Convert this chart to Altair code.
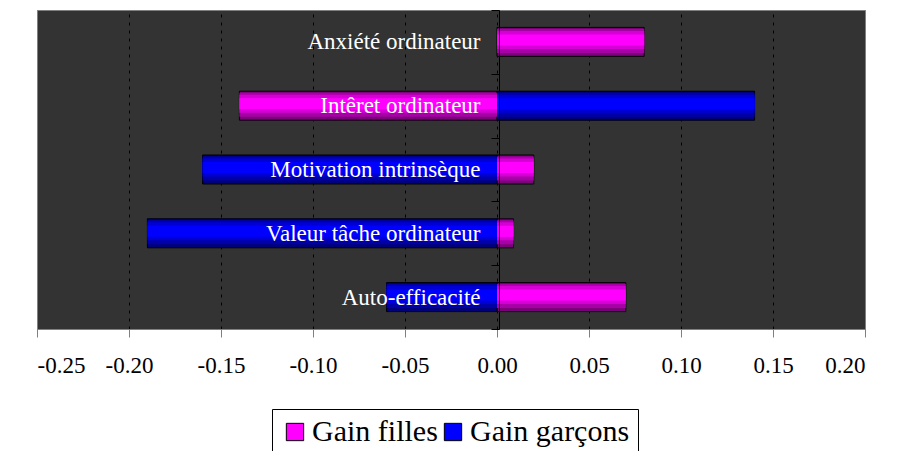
import altair as alt
import pandas as pd

# Gains per attitude scale, girls vs boys
categories = [
    "Anxiété ordinateur",
    "Intêret ordinateur",
    "Motivation intrinsèque",
    "Valeur tâche ordinateur",
    "Auto-efficacité",
]
gain_filles = [0.08, -0.14, 0.02, 0.009, 0.07]
gain_garcons = [0.0, 0.14, -0.16, -0.19, -0.06]
series_names = ["Gain filles", "Gain garçons"]
x_ticks = [-0.25, -0.20, -0.15, -0.10, -0.05, 0.0, 0.05, 0.10, 0.15, 0.20]

rows = []
for cat, f, g in zip(categories, gain_filles, gain_garcons):
    rows.append({"scale": cat, "serie": series_names[0], "gain": f})
    rows.append({"scale": cat, "serie": series_names[1], "gain": g})
df = pd.DataFrame(rows)

SERIF = "Times New Roman"

edge_test = "datum.value <= -0.249 || datum.value >= 0.199"

x_enc = alt.X(
    "gain:Q",
    scale=alt.Scale(domain=[x_ticks[0], x_ticks[-1]], nice=False, zero=False),
    axis=alt.Axis(
        values=x_ticks,
        title=None,
        labelExpr="datum.value < -0.0001 ? '-' + format(-datum.value, '.2f') : format(abs(datum.value), '.2f')",
        labelFont=SERIF,
        labelFontSize=23,
        labelColor="black",
        labelPadding=17,
        tickSize=8,
        tickColor="#808080",
        domainColor="#808080",
        grid=True,
        gridColor={"condition": {"test": edge_test, "value": "#808080"}, "value": "black"},
        gridDash={"condition": {"test": edge_test, "value": []}, "value": [3, 5]},
        gridWidth=1,
    ),
)
x2_enc = alt.X2(datum=0)

y_enc = alt.Y(
    "scale:N",
    sort=categories,
    scale=alt.Scale(paddingInner=0, paddingOuter=0),
    axis=alt.Axis(
        title=None,
        offset=-462,
        tickBand="extent",
        tickSize=8,
        tickColor="black",
        domainColor="black",
        labelFont=SERIF,
        labelFontSize=23,
        labelColor="white",
        labelPadding=11,
        labelLimit=400,
        zindex=1,
    ),
)

base = alt.Chart(df).transform_filter(alt.datum.gain != 0)

# flat bars carrying the legend; covered by the shaded bars drawn above
legend_layer = base.mark_bar(size=29).encode(
    x=x_enc,
    x2=x2_enc,
    y=y_enc,
    color=alt.Color(
        "serie:N",
        sort=series_names,
        scale=alt.Scale(domain=series_names, range=["#ff00ff", "#0000ff"]),
        legend=alt.Legend(
            title=None,
            orient="none",
            legendX=235,
            legendY=399,
            direction="horizontal",
            symbolType="square",
            symbolSize=300,
            symbolStrokeColor="black",
            symbolStrokeWidth=1,
            labelFont=SERIF,
            labelFontSize=30,
            labelColor="black",
            labelOffset=2,
            labelLimit=400,
            columnPadding=-22,
            padding=8,
            strokeColor="black",
            fillColor="white",
        ),
    ),
)

# shading bands (outer dark -> bright core) to give each bar a cylinder look
bands = [
    (29, 0, {"Gain filles": "#7a007a", "Gain garçons": "#000078"}, True),
    (24, -1, {"Gain filles": "#a600a6", "Gain garçons": "#0000a6"}, False),
    (18, -2, {"Gain filles": "#d600d6", "Gain garçons": "#0000d6"}, False),
    (11, -2, {"Gain filles": "#ff00ff", "Gain garçons": "#0000ff"}, False),
]

shaded = []
for size, offset, colors, outlined in bands:
    for serie in series_names:
        mark_kwargs = dict(size=size, yOffset=offset, color=colors[serie])
        if outlined:
            mark_kwargs.update(stroke="black", strokeWidth=1)
        shaded.append(
            base.transform_filter(alt.datum.serie == serie)
            .mark_bar(**mark_kwargs)
            .encode(x=x_enc, x2=x2_enc, y=y_enc)
        )

chart = (
    alt.layer(legend_layer, *shaded)
    .properties(
        width=828,
        height=319,
        autosize=alt.AutoSizeParams(type="none"),
        padding={"left": 37, "top": 10, "right": 36, "bottom": 122},
        background="white",
    )
    .configure_view(fill="#333333", stroke="#808080", strokeWidth=1)
)

chart.save("out.html", embed_options={"renderer": "svg", "actions": False})
